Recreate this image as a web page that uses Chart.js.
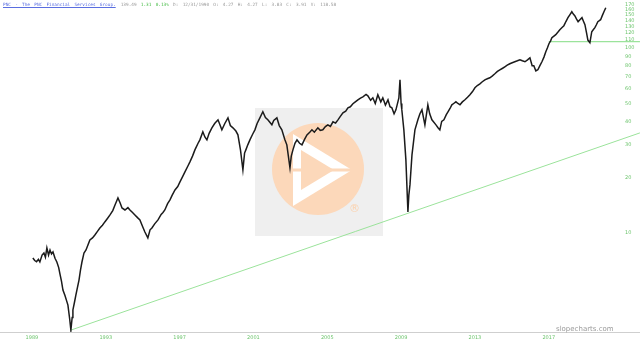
<!DOCTYPE html>
<html>
<head>
<meta charset="utf-8">
<script src="https://cdn.jsdelivr.net/npm/chart.js@4.4.1/dist/chart.umd.min.js"></script>
<style>
html,body{margin:0;padding:0;background:#fff;}
#wrap{position:relative;width:640px;height:344px;overflow:hidden;}
canvas{position:absolute;left:0;top:0;}
#hdr{position:absolute;left:3px;top:2px;font-family:"DejaVu Sans Mono",monospace;font-size:4.4px;white-space:nowrap;color:#999;line-height:6px;word-spacing:1.6px;}
#hdr .t{color:#5a6ee0;text-decoration:underline;margin-right:5px;}
#hdr .g{color:#4b4;}
#brand{position:absolute;left:556px;top:325px;font-family:"DejaVu Sans",sans-serif;font-size:7px;color:#9a9a9a;}
#reg{position:absolute;left:349px;top:202px;font-family:"DejaVu Sans",sans-serif;font-size:11px;color:#fbd2ae;}
</style>
</head>
<body>
<div id="wrap">
<canvas id="c" width="640" height="344"></canvas>
<div id="hdr"><span class="t">PNC - The PNC Financial Services Group.</span>139.49 <span class="g">1.31 0.13%</span> D: 12/31/1990 O: 4.27 H: 4.27 L: 3.83 C: 3.91 V: 118.58</div>
<div id="reg">®</div>
<div id="brand">slopecharts.com</div>
</div>
<script>
// ---- data (decimal year, price) ----
const years = [1989.05,1989.15,1989.25,1989.35,1989.43,1989.55,1989.65,1989.73,1989.81,1989.9,1989.98,1990.06,1990.14,1990.25,1990.35,1990.45,1990.52,1990.6,1990.68,1990.79,1990.88,1990.95,1991.05,1991.11,1991.18,1991.22,1991.3,1991.38,1991.47,1991.55,1991.63,1991.71,1991.82,1991.93,1992.05,1992.14,1992.28,1992.41,1992.55,1992.68,1992.82,1992.95,1993.1,1993.23,1993.38,1993.5,1993.58,1993.66,1993.78,1993.88,1994.04,1994.2,1994.31,1994.45,1994.58,1994.72,1994.85,1995.0,1995.12,1995.28,1995.4,1995.5,1995.65,1995.83,1996.0,1996.1,1996.2,1996.35,1996.48,1996.6,1996.75,1996.9,1997.02,1997.15,1997.29,1997.45,1997.56,1997.7,1997.83,1998.0,1998.1,1998.26,1998.37,1998.48,1998.6,1998.75,1998.9,1999.08,1999.18,1999.29,1999.45,1999.62,1999.75,1999.89,2000.05,2000.16,2000.3,2000.43,2000.52,2000.59,2000.7,2000.81,2000.95,2001.08,2001.2,2001.35,2001.51,2001.65,2001.78,2001.9,2002.0,2002.1,2002.27,2002.4,2002.54,2002.7,2002.81,2002.98,2003.05,2003.14,2003.25,2003.36,2003.5,2003.63,2003.77,2003.9,2004.05,2004.17,2004.3,2004.49,2004.62,2004.76,2004.9,2005.03,2005.17,2005.31,2005.45,2005.58,2005.7,2005.85,2006.0,2006.12,2006.25,2006.39,2006.52,2006.66,2006.8,2006.93,2007.1,2007.2,2007.35,2007.47,2007.6,2007.74,2007.9,2008.01,2008.15,2008.29,2008.4,2008.5,2008.62,2008.72,2008.88,2008.94,2009.0,2009.04,2009.15,2009.26,2009.37,2009.42,2009.48,2009.59,2009.75,2009.91,2010.02,2010.13,2010.29,2010.45,2010.55,2010.67,2010.89,2011.0,2011.1,2011.2,2011.32,2011.45,2011.54,2011.65,2011.75,2011.85,2011.97,2012.08,2012.19,2012.32,2012.46,2012.6,2012.73,2012.87,2013.0,2013.13,2013.27,2013.4,2013.54,2013.67,2013.81,2013.95,2014.08,2014.22,2014.35,2014.5,2014.62,2014.75,2014.89,2015.02,2015.16,2015.3,2015.44,2015.57,2015.71,2015.85,2015.98,2016.1,2016.19,2016.3,2016.41,2016.52,2016.63,2016.74,2016.84,2016.93,2017.01,2017.1,2017.17,2017.28,2017.38,2017.5,2017.6,2017.72,2017.82,2017.93,2018.04,2018.15,2018.25,2018.33,2018.41,2018.5,2018.59,2018.7,2018.8,2018.88,2018.96,2019.05,2019.12,2019.23,2019.33,2019.42,2019.5,2019.58,2019.66,2019.74,2019.81,2019.9,2019.99,2020.09];
const prices = [7.33,7.1,7.0,7.2,6.97,7.6,7.8,7.4,8.3,7.6,8.09,7.7,7.9,7.3,6.97,6.5,6.0,5.5,4.92,4.6,4.3,4.08,3.4,2.99,3.5,3.84,4.2,4.62,5.1,5.57,6.3,6.97,7.8,8.09,8.7,9.17,9.4,9.75,10.2,10.64,11.0,11.47,12.0,12.51,13.2,14.17,14.8,15.46,14.5,13.65,13.31,13.7,13.31,12.9,12.51,12.1,11.76,10.8,10.12,9.4,10.4,10.64,11.2,11.76,12.6,12.9,13.31,14.4,15.08,16.0,17.08,17.8,18.87,20.0,21.36,23.0,24.2,26.0,28.09,30.5,31.81,35.15,33.0,31.81,34.5,36.94,39.0,40.81,38.5,36.04,39.0,41.84,38.0,36.94,35.5,33.86,28.0,21.9,27.0,28.09,30.0,31.81,34.0,36.04,39.0,41.84,45.1,42.0,40.81,39.5,38.35,40.5,41.84,38.0,36.04,32.0,29.9,22.46,26.0,28.09,30.5,31.81,30.5,29.9,32.0,33.86,35.0,36.04,35.0,36.94,35.8,36.04,37.5,38.35,37.6,39.81,39.2,40.81,42.5,44.54,45.5,47.39,48.0,49.82,51.0,52.35,53.5,54.34,56.0,55.02,52.0,53.66,50.0,55.71,51.0,53.66,49.0,52.35,48.0,47.39,44.0,46.22,53.66,67.14,50.0,46.22,36.04,24.8,12.99,16.0,18.18,26.4,36.04,40.81,44.0,46.22,38.35,49.18,44.0,40.81,38.35,37.0,36.04,40.0,40.81,43.5,45.1,47.0,49.18,50.0,51.05,50.0,49.18,51.0,52.35,54.0,55.71,58.0,60.77,62.5,63.88,65.5,67.14,68.0,68.83,70.5,72.35,74.5,76.04,77.5,78.93,80.5,81.93,83.0,84.0,85.0,86.12,85.0,84.0,86.0,88.3,80.0,79.92,75.0,76.04,80.0,84.0,89.0,95.1,100.0,105.1,109.0,113.3,115.5,117.6,121.5,125.1,128.5,131.5,138.5,145.3,151.0,156.5,152.0,148.9,143.0,138.2,142.0,145.3,139.0,133.2,120.0,110.0,106.4,122.0,125.5,128.3,133.0,138.2,140.0,141.7,149.0,156.5,164.5];
// trend line (support from 1990 low) and horizontal support
const trendYears = [1991.11, 2021.94];
const trendValues = [2.99, 34.7];
const supportYears = [2017.0, 2021.94];
const supportValues = [107.8, 107.8];
// tick labels
const xTicks = [1989,1993,1997,2001,2005,2009,2013,2017];
const yTicks = [10,20,30,40,50,60,70,80,90,100,110,120,130,140,150,160,170];

const pts = (xs, ys) => xs.map((x, i) => ({x: x, y: ys[i]}));

const decor = {
  id: 'decor',
  beforeDatasetsDraw(chart) {
    const ctx = chart.ctx;
    ctx.save();
    ctx.fillStyle = '#efefef';
    ctx.fillRect(255, 108, 128, 128);
    ctx.fillStyle = '#fcd8ba';
    ctx.beginPath();
    ctx.arc(318, 169, 46, 0, Math.PI * 2);
    ctx.fill();
    ctx.fillStyle = '#ffffff';
    ctx.beginPath();
    ctx.moveTo(293, 134); ctx.lineTo(352, 170); ctx.lineTo(293, 206); ctx.closePath();
    ctx.fill();
    ctx.fillStyle = '#fcd8ba';
    ctx.beginPath();
    ctx.moveTo(301, 150); ctx.lineTo(334, 170); ctx.lineTo(301, 190); ctx.closePath();
    ctx.fill();
    ctx.strokeStyle = '#fcd8ba';
    ctx.lineWidth = 3;
    ctx.beginPath();
    ctx.moveTo(293, 170); ctx.lineTo(352, 170);
    ctx.stroke();
    ctx.restore();
  },
  afterDraw(chart) {
    const ctx = chart.ctx, a = chart.chartArea;
    ctx.save();
    ctx.strokeStyle = '#cfcfcf';
    ctx.lineWidth = 1;
    ctx.beginPath();
    ctx.moveTo(0, a.bottom + 0.5); ctx.lineTo(640, a.bottom + 0.5);
    ctx.stroke();
    ctx.restore();
  }
};

new Chart(document.getElementById('c'), {
  type: 'line',
  data: {
    datasets: [
      {data: pts(years, prices), borderColor: '#1b1b1b', borderWidth: 1.5, pointRadius: 0, tension: 0, order: 1},
      {data: pts(trendYears, trendValues), borderColor: '#9be39b', borderWidth: 1, pointRadius: 0, clip: false, order: 2},
      {data: pts(supportYears, supportValues), borderColor: '#9be39b', borderWidth: 1.2, pointRadius: 0, clip: false, order: 2}
    ]
  },
  options: {
    responsive: false,
    animation: false,
    devicePixelRatio: 1,
    layout: {padding: 0},
    plugins: {legend: {display: false}, tooltip: {enabled: false}},
    scales: {
      x: {
        type: 'linear', min: 1987.27, max: 2020.86,
        afterBuildTicks: s => { s.ticks = xTicks.map(v => ({value: v})); },
        ticks: {color: '#6cc46c', font: {size: 5, family: 'DejaVu Sans'}, padding: 3, maxRotation: 0, autoSkip: false, callback: v => String(v)},
        grid: {display: false, drawTicks: false},
        border: {display: false},
        afterFit: s => { s.height = 12; s.paddingLeft = 0; s.paddingRight = 0; }
      },
      y: {
        type: 'logarithmic', position: 'right', min: 2.92, max: 181,
        afterBuildTicks: s => { s.ticks = yTicks.map(v => ({value: v})); },
        ticks: {color: '#6cc46c', font: {size: 5, family: 'DejaVu Sans'}, padding: 5, autoSkip: false, callback: v => String(v)},
        grid: {display: false, drawTicks: false},
        border: {display: false},
        afterFit: s => { s.width = 20; s.paddingTop = 0; s.paddingBottom = 0; }
      }
    }
  },
  plugins: [decor]
});
</script>
</body>
</html>
